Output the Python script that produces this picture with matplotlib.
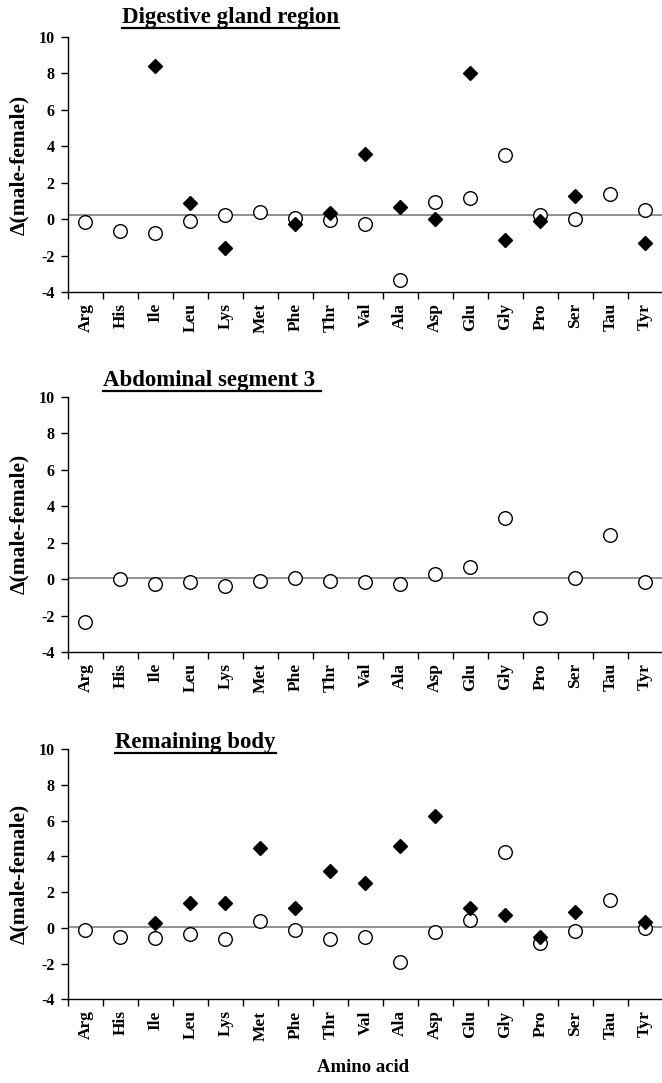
import numpy as np
import matplotlib
matplotlib.use("Agg")
import matplotlib.pyplot as plt
from matplotlib.lines import Line2D
from matplotlib.ticker import FixedLocator, NullFormatter

plt.rcParams['font.family'] = ['Liberation Serif', 'DejaVu Serif']
plt.rcParams['font.weight'] = 'bold'

amino_acids = ["Arg", "His", "Ile", "Leu", "Lys", "Met", "Phe", "Thr", "Val",
               "Ala", "Asp", "Glu", "Gly", "Pro", "Ser", "Tau", "Tyr"]

titles = ["Digestive gland region", "Abdominal segment 3 ", "Remaining body"]

# open circles
dg_circle = [-0.18, -0.65, -0.76, -0.08, 0.21, 0.37, 0.06, -0.07, -0.29,
             -3.34, 0.92, 1.16, 3.54, 0.21, 0.03, 1.40, 0.48]
ab_circle = [-2.37, 0.02, -0.25, -0.18, -0.40, -0.13, 0.04, -0.11, -0.18,
             -0.29, 0.29, 0.68, 3.33, -2.15, 0.06, 2.41, -0.18]
rb_circle = [-0.10, -0.53, -0.57, -0.34, -0.60, 0.39, -0.14, -0.64, -0.49,
             -1.93, -0.23, 0.44, 4.27, -0.86, -0.15, 1.54, -0.02]

# filled diamonds (nan = absent)
nan = np.nan
dg_diamond = [nan, nan, 8.43, 0.90, -1.57, nan, -0.27, 0.32, 3.56,
              0.69, 0.03, 8.00, -1.13, -0.10, 1.27, nan, -1.33]
ab_diamond = [nan] * 17
rb_diamond = [nan, nan, 0.26, 1.39, 1.39, 4.49, 1.10, 3.21, 2.50,
              4.60, 6.29, 1.10, 0.72, -0.49, 0.91, nan, 0.35]

ref_lines = [0.2, 0.05, 0.07]

circles = [dg_circle, ab_circle, rb_circle]
diamonds = [dg_diamond, ab_diamond, rb_diamond]

W, H = 662, 1083
fig = plt.figure(figsize=(W / 100, H / 100), dpi=100)

# axes rectangles in pixel coords: (top_px, bottom_px)
panel_px = [(37, 292), (396.7, 652), (749.3, 999.3)]
left_px = 68
title_pos = [(122, 23), (103, 386), (115, 748)]

x = np.arange(len(amino_acids))
title_texts = []
for i in range(3):
    top, bot = panel_px[i]
    ax = fig.add_axes([left_px / W, 1 - bot / H, 1 - left_px / W + 0.001, (bot - top) / H])
    ax.axhline(ref_lines[i], color='#888888', lw=1.3, zorder=1)
    ax.plot(x, circles[i], linestyle='none', marker='o', ms=9.8, mfc='white',
            mec='black', mew=1.0, zorder=3)
    ax.plot(x, diamonds[i], linestyle='none', marker='D', ms=7.4, mfc='black',
            mec='black', zorder=4)
    ax.set_xlim(-0.5, 16.5)
    ax.set_ylim(-4, 10)
    ax.set_yticks(np.arange(-4, 11, 2))
    ax.set_yticklabels([str(v) for v in range(-4, 11, 2)], fontsize=11.5, fontweight='bold')
    ax.set_xticks(x)
    ax.set_xticklabels(amino_acids, rotation=90, fontsize=12.5, fontweight='bold')
    ax.xaxis.set_minor_locator(FixedLocator(np.arange(-0.5, 17, 1.0)))
    ax.xaxis.set_minor_formatter(NullFormatter())
    ax.tick_params(axis='x', which='major', length=0, pad=8)
    ax.tick_params(axis='x', which='minor', length=5, width=1, direction='out')
    ax.tick_params(axis='y', which='major', length=5, width=1, direction='out', pad=4.5)
    for s in ['top', 'right']:
        ax.spines[s].set_visible(False)
    for s in ['left', 'bottom']:
        ax.spines[s].set_linewidth(1.0)
    ax.set_ylabel('Δ(male-female)', fontsize=15.5, fontweight='bold', va='center')
    ax.yaxis.set_label_coords(-(left_px - 19) / (W - left_px), 0.5)
    ax.patch.set_alpha(0)
    tx, ty = title_pos[i]
    t = fig.text(tx / W, 1 - ty / H, titles[i], fontsize=16.5, fontweight='bold',
                 ha='left', va='baseline')
    title_texts.append(t)

fig.text(363 / W, 1 - 1068 / H, 'Amino acid', fontsize=13.5, fontweight='bold',
         ha='center', va='center')

fig.canvas.draw()
renderer = fig.canvas.get_renderer()
inv = fig.transFigure.inverted()
for t, (tx, ty) in zip(title_texts, title_pos):
    bb = t.get_window_extent(renderer)
    (x0, _), (x1, _) = inv.transform([(bb.x0, 0), (bb.x1, 0)])
    yline = 1 - (ty + 4.5) / H
    fig.add_artist(Line2D([x0, x1], [yline, yline], transform=fig.transFigure,
                          color='black', lw=1.6))

fig.savefig('out.png', dpi=100)
